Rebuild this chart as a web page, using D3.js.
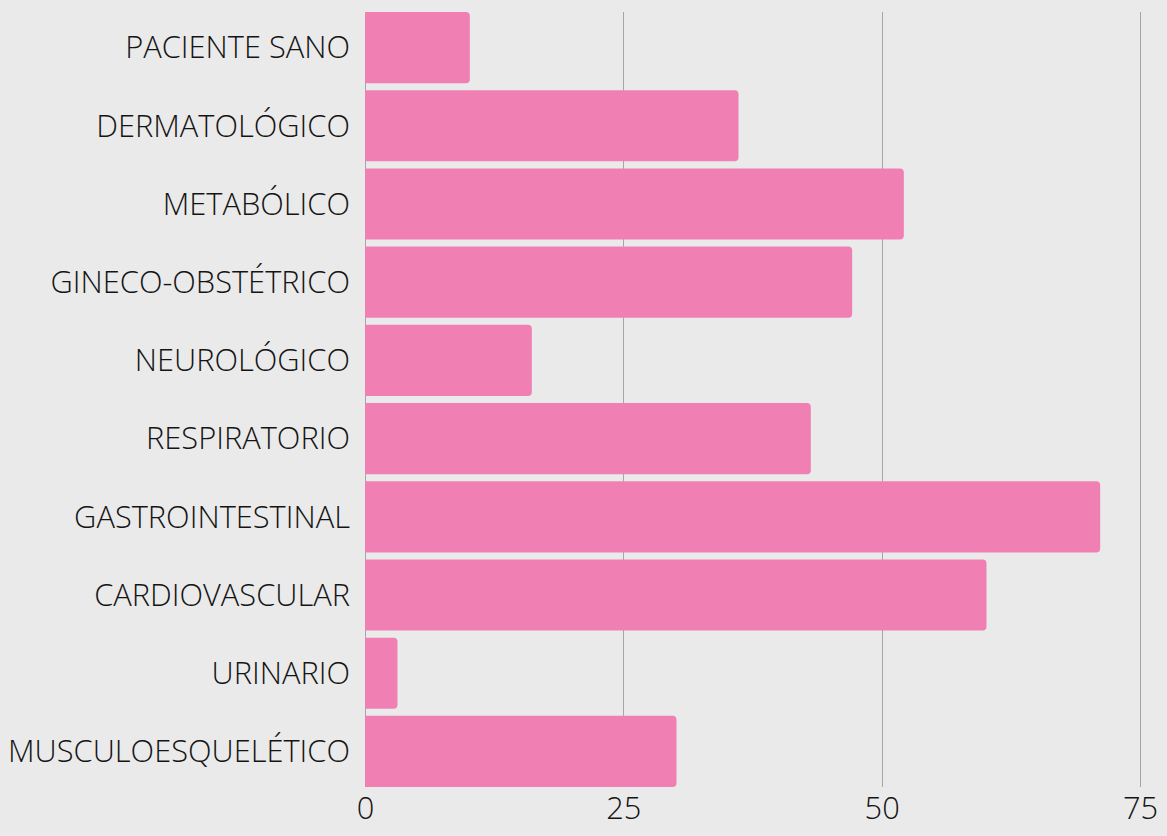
<!DOCTYPE html>
<html>
<head>
<meta charset="utf-8">
<script src="https://cdn.jsdelivr.net/npm/d3@7"></script>
<style>
  body { margin: 0; background: #eaeaea; }
  svg { display: block; }
  text { font-family: "Open Sans", sans-serif; font-weight: 300; fill: #141414; }
</style>
</head>
<body>
<svg width="1167" height="836"></svg>
<script>
var categories = ["PACIENTE SANO", "DERMATOLÓGICO", "METABÓLICO", "GINECO-OBSTÉTRICO",
  "NEUROLÓGICO", "RESPIRATORIO", "GASTROINTESTINAL", "CARDIOVASCULAR", "URINARIO",
  "MUSCULOESQUELÉTICO"];
var values = [10, 36, 52, 47, 16, 43, 71, 60, 3, 30];
var ticks = [0, 25, 50, 75];

var svg = d3.select("svg"),
    width = +svg.attr("width"),
    height = +svg.attr("height");

let margin = { left: 365, right: 27, top: 12, bottom: 49 };

var x = d3.scaleLinear()
    .domain([0, 75])
    .range([margin.left, width - margin.right]);

var y = d3.scaleBand()
    .domain(categories)
    .range([margin.top, height - margin.bottom])
    .paddingInner(0.09)
    .paddingOuter(0);

// grid
svg.append("g")
    .selectAll("line")
    .data(ticks)
    .enter().append("line")
      .attr("x1", d => Math.round(x(d)) + 0.5)
      .attr("x2", d => Math.round(x(d)) + 0.5)
      .attr("y1", margin.top)
      .attr("y2", height - margin.bottom)
      .attr("stroke", "#a6a6a6")
      .attr("stroke-width", 1);

// bars, rounded on the right end only
function barPath(v, cat) {
  var x0 = x(0), x1 = x(v) + 1.5, y0 = y(cat), y1 = y0 + y.bandwidth(), r = 4;
  var p = d3.path();
  p.moveTo(x0, y0);
  p.lineTo(x1 - r, y0);
  p.arcTo(x1, y0, x1, y0 + r, r);
  p.lineTo(x1, y1 - r);
  p.arcTo(x1, y1, x1 - r, y1, r);
  p.lineTo(x0, y1);
  p.closePath();
  return p.toString();
}

svg.append("g")
    .selectAll("path")
    .data(values)
    .enter().append("path")
      .attr("d", (d, i) => barPath(d, categories[i]))
      .attr("fill", "#f080b4");

// y labels
svg.append("g")
    .selectAll("text")
    .data(categories)
    .enter().append("text")
      .attr("x", margin.left - 15)
      .attr("y", d => y(d) + y.bandwidth() / 2)
      .attr("dy", "0.35em")
      .attr("text-anchor", "end")
      .attr("font-size", "30.8px")
      .text(d => d);

// x tick labels
var xAxis = svg.append("g")
    .attr("transform", "translate(0," + (height - margin.bottom) + ")")
    .call(d3.axisBottom(x).tickValues(ticks).tickSize(0).tickPadding(10));
xAxis.select(".domain").remove();
xAxis.selectAll("text")
    .attr("font-size", "30.8px")
    .attr("font-family", "Open Sans, sans-serif")
    .attr("fill", "#141414")
    .attr("dy", "0.71em");
</script>
</body>
</html>
